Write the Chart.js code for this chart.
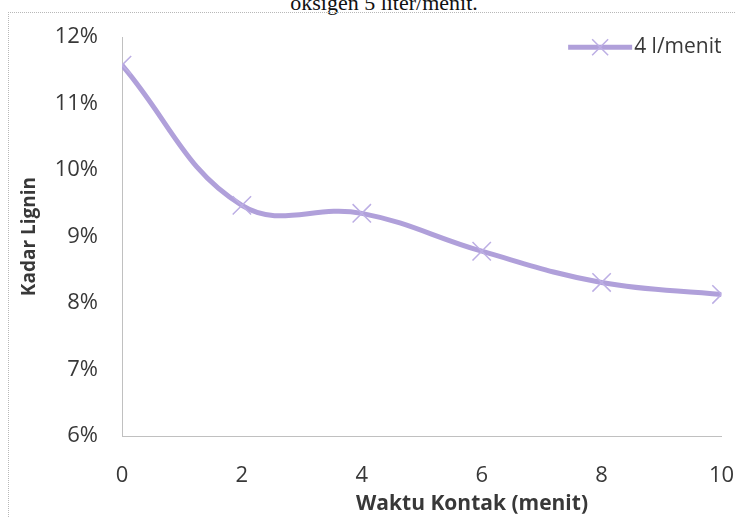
<!DOCTYPE html>
<html>
<head>
<meta charset="utf-8">
<script src="https://cdn.jsdelivr.net/npm/chart.js@4/dist/chart.umd.min.js"></script>
<style>
  html, body { margin: 0; padding: 0; background: #fff; }
  #wrap { position: relative; width: 736px; height: 518px; overflow: hidden; }
  #frame { position: absolute; left: 8px; top: 12px; width: 760px; height: 560px;
           border-left: 1px dotted #b8b8b8; border-top: 1px dotted #b8b8b8; }
  #caption { position: absolute; left: 16px; width: 736px; top: -8px; text-align: center;
             font: 22px "Liberation Serif", "Times New Roman", serif; color: #111; line-height: 22px; }
  canvas { position: absolute; left: 0; top: 0; }
</style>
</head>
<body>
<div id="wrap">
  <div id="caption">oksigen 5 liter/menit.</div>
  <div id="frame"></div>
  <canvas id="myChart" width="736" height="518"></canvas>
</div>
<script>
// waktu kontak (menit) dan kadar lignin (%)
const waktu = [0, 2, 4, 6, 8, 10];
const kadarLignin = [11.58, 9.47, 9.35, 8.78, 8.31, 8.13];
const seriesLabel = "4 l/menit";
const xTitle = "Waktu Kontak (menit)";
const yTitle = "Kadar Lignin";

const textColor = "#383838";
const lineColor = "rgba(176, 160, 218, 1)";
const markColor = "rgba(188, 174, 228, 1)";
const fontFam = "'Open Sans', 'Noto Sans', sans-serif";

// x axis title sits a bit right of centre, drawn by hand
const xTitlePlugin = {
	id: "xTitle",
	afterDraw(chart) {
		const ctx = chart.ctx;
		ctx.save();
		ctx.font = "bold 21px " + fontFam;
		ctx.fillStyle = textColor;
		ctx.textAlign = "center";
		ctx.textBaseline = "middle";
		ctx.fillText(xTitle, 472, 504);
		ctx.restore();
	},
};

// legend in the top right corner of the plot: line sample, cross, label
const cornerLegend = {
	id: "cornerLegend",
	afterDraw(chart) {
		const ds = chart.data.datasets[0];
		const area = chart.chartArea;
		const ctx = chart.ctx;
		const y = area.top + 10;
		ctx.save();
		ctx.font = "21px " + fontFam;
		const tw = ctx.measureText(ds.label).width;
		const x1 = area.right - tw - 2;
		const x0 = x1 - 64;
		ctx.strokeStyle = ds.borderColor;
		ctx.lineWidth = ds.borderWidth;
		ctx.beginPath();
		ctx.moveTo(x0, y); ctx.lineTo(x1, y);
		ctx.stroke();
		const cx = (x0 + x1) / 2, r = 8;
		ctx.strokeStyle = ds.pointBorderColor;
		ctx.lineWidth = ds.pointBorderWidth;
		ctx.beginPath();
		ctx.moveTo(cx - r, y - r); ctx.lineTo(cx + r, y + r);
		ctx.moveTo(cx - r, y + r); ctx.lineTo(cx + r, y - r);
		ctx.stroke();
		ctx.fillStyle = textColor;
		ctx.textBaseline = "middle";
		ctx.fillText(ds.label, x1 + 2, y);
		ctx.restore();
	},
};

const ctx = document.getElementById("myChart").getContext("2d");
const myChart = new Chart(ctx, {
	type: "line",
	data: {
		datasets: [
			{
				label: seriesLabel,
				data: waktu.map((w, i) => ({ x: w, y: kadarLignin[i] })),
				borderColor: lineColor,
				backgroundColor: lineColor,
				borderWidth: 5,
				tension: 0.4,
				fill: false,
				pointStyle: "crossRot",
				pointRadius: 13,
				pointBorderColor: markColor,
				pointBorderWidth: 1.5,
			},
		],
	},
	options: {
		responsive: false,
		animation: false,
		layout: { padding: { left: 0, right: 14, top: 35, bottom: 0 } },
		plugins: {
			legend: { display: false },
			tooltip: { enabled: false },
		},
		scales: {
			x: {
				type: "linear",
				min: 0,
				max: 10,
				grid: { display: false, drawTicks: false },
				border: { color: "#c0c0c0", width: 1 },
				ticks: {
					stepSize: 2,
					padding: 27,
					color: textColor,
					font: { family: fontFam, size: 22 },
				},
				afterFit(scale) {
					scale.height = 518 - 436;
					scale.paddingLeft = 0;
					scale.paddingRight = 0;
				},
			},
			y: {
				min: 6,
				max: 12,
				grid: { display: false, drawTicks: false },
				border: { color: "#c0c0c0", width: 1 },
				ticks: {
					stepSize: 1,
					padding: 24,
					color: textColor,
					font: { family: fontFam, size: 22 },
					callback: (v) => v + "%",
				},
				title: {
					display: true,
					text: yTitle,
					color: textColor,
					font: { family: fontFam, size: 19, weight: "bold" },
					padding: { top: 18, bottom: 0 },
				},
				afterFit(scale) { scale.width = 122; },
			},
		},
	},
	plugins: [xTitlePlugin, cornerLegend],
});
</script>
</body>
</html>
